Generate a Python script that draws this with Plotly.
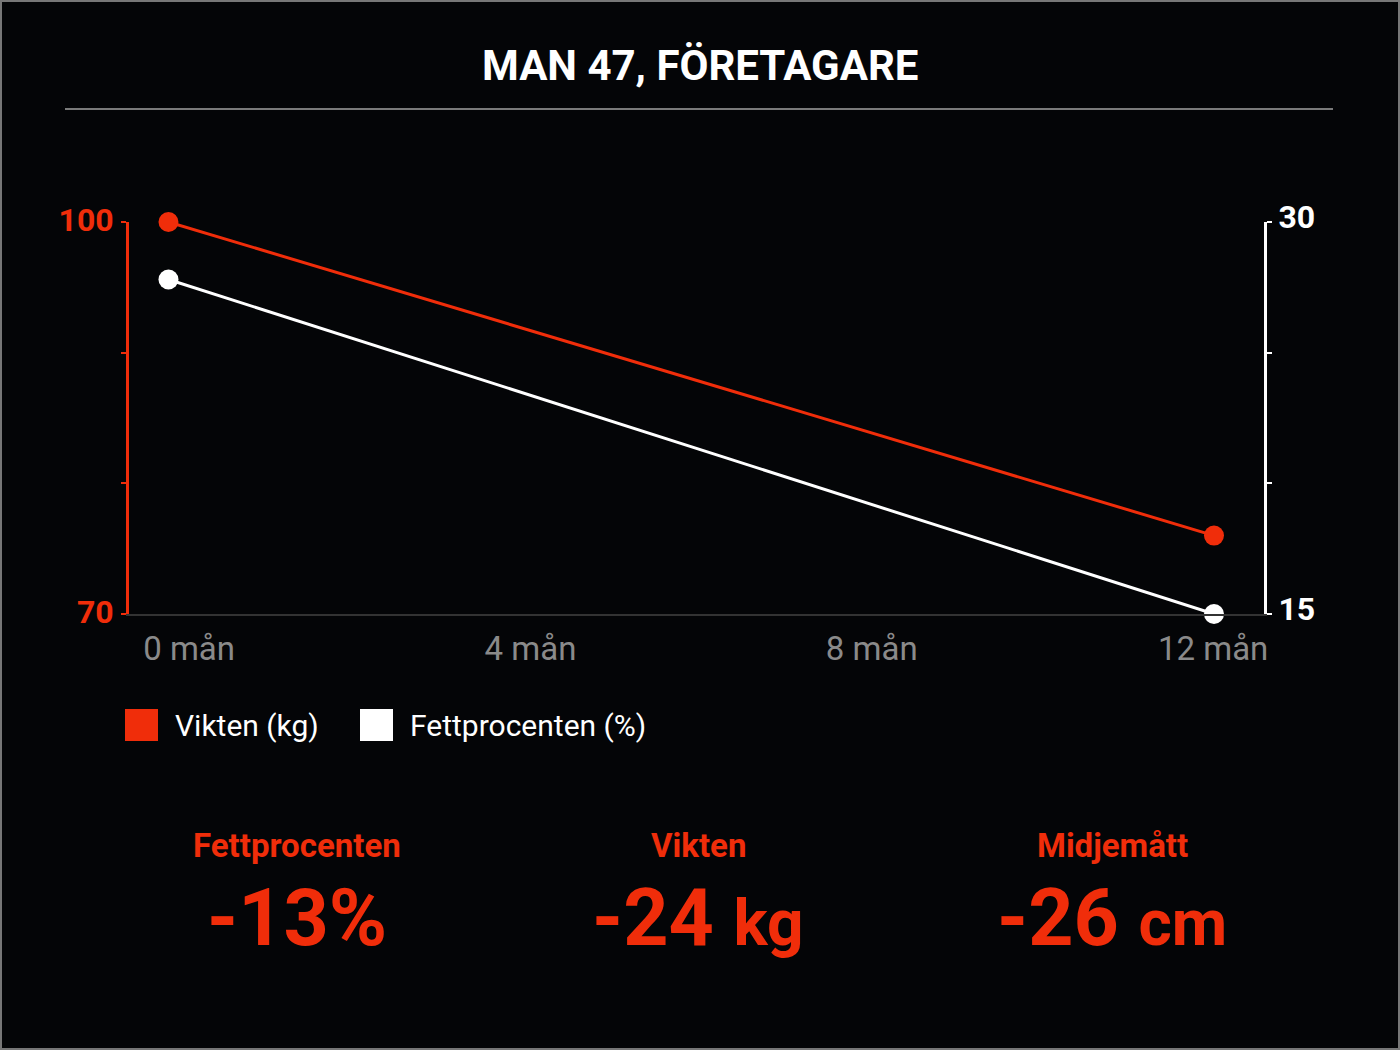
import plotly.graph_objects as go

# canvas and plot-area margins (pixels)
W, H = 1400, 1050
ML, MR, MT, MB = 129, 136, 222, 436

RED = "#F02D0A"
BG = "#040507"
GREY = "#8a8a8a"

# data
title_text = "MAN 47, FÖRETAGARE"
months = [0, 12]
weight_kg = [100, 76]
fat_pct = [27.8, 15]

month_ticks = [0, 4, 8, 12]
month_labels = ["0 mån", "4 mån", "8 mån", "12 mån"]
weight_ticks = [70, 80, 90, 100]
weight_tick_labels = ["70", "", "", "100"]
fat_ticks = [15, 20, 25, 30]
fat_tick_labels = ["15", "", "", "30"]

legend_labels = ["Vikten (kg)", "Fettprocenten (%)"]
legend_colors = [RED, "#ffffff"]

stat_titles = ["Fettprocenten", "Vikten", "Midjemått"]
stat_values = ["-13", "-24", "-26"]
stat_units = ["%", "kg", "cm"]


def px(x):
    # pixel x -> paper x
    return (x - ML) / (W - ML - MR)


def py(y):
    # pixel y -> paper y
    return (H - MB - y) / (H - MT - MB)


fig = go.Figure()

fig.add_trace(go.Scatter(
    x=months, y=weight_kg, name=legend_labels[0],
    mode="lines+markers", cliponaxis=False,
    line=dict(color=RED, width=3),
    marker=dict(size=20, color=RED),
    xaxis="x", yaxis="y",
))
fig.add_trace(go.Scatter(
    x=months, y=fat_pct, name=legend_labels[1],
    mode="lines+markers", cliponaxis=False,
    line=dict(color="#ffffff", width=3),
    marker=dict(size=20, color="#ffffff"),
    xaxis="x", yaxis="y2",
))
# empty trace so the month label axis gets drawn
fig.add_trace(go.Scatter(
    x=month_ticks, y=[None] * len(month_ticks), mode="markers",
    hoverinfo="skip", xaxis="x2", yaxis="y",
))

shapes = [
    # outer frame
    dict(type="rect", xref="paper", yref="paper",
         x0=px(1), x1=px(1399), y0=py(1049), y1=py(1),
         line=dict(color="#777777", width=2), fillcolor="rgba(0,0,0,0)"),
    # rule under the title
    dict(type="line", xref="paper", yref="paper",
         x0=px(65), x1=px(1333), y0=py(109), y1=py(109),
         line=dict(color="#7a7a7a", width=2)),
]

annotations = [
    dict(text=title_text, xref="paper", yref="paper", x=px(700), y=py(65),
         showarrow=False, xanchor="center", yanchor="middle",
         font=dict(family="Roboto", size=42, color="#ffffff", weight=700)),
]

# custom legend
legend_x = [125, 360]
for lab, col, lx in zip(legend_labels, legend_colors, legend_x):
    shapes.append(dict(type="rect", xref="paper", yref="paper",
                       x0=px(lx), x1=px(lx + 33), y0=py(741), y1=py(709),
                       fillcolor=col, line=dict(width=0)))
    annotations.append(dict(text=lab, xref="paper", yref="paper",
                            x=px(lx + 48), y=py(725), showarrow=False,
                            xanchor="left", yanchor="middle",
                            font=dict(family="Roboto", size=30, color="#ffffff")))

# summary figures under the chart
stat_x = [297, 698, 1112]
for t, v, u, sx in zip(stat_titles, stat_values, stat_units, stat_x):
    annotations.append(dict(text=t, xref="paper", yref="paper",
                            x=px(sx), y=py(845), showarrow=False,
                            xanchor="center", yanchor="middle",
                            font=dict(family="Roboto", size=33, color=RED, weight=700)))
    if u == "%":
        txt = v + u
    else:
        txt = v + " <span style='font-size:64px'>" + u + "</span>"
    annotations.append(dict(text=txt, xref="paper", yref="paper",
                            x=px(sx), y=py(918), showarrow=False,
                            xanchor="center", yanchor="middle",
                            font=dict(family="Roboto", size=79, color=RED, weight=700)))

fig.update_layout(
    width=W, height=H,
    margin=dict(l=ML, r=MR, t=MT, b=MB, pad=0),
    paper_bgcolor=BG, plot_bgcolor=BG,
    showlegend=False,
    xaxis=dict(
        range=[-0.453, 12.574], showgrid=False, zeroline=False,
        showticklabels=False, ticks="",
        showline=True, linecolor="#333333", linewidth=2,
    ),
    xaxis2=dict(
        range=[-0.704, 12.596], overlaying="x", anchor="y", side="bottom",
        showgrid=False, zeroline=False, showline=False, ticks="",
        tickvals=month_ticks, ticktext=month_labels,
        tickfont=dict(family="Roboto", size=33, color=GREY),
        ticklabelstandoff=12,
    ),
    yaxis=dict(
        range=[70, 100], showgrid=False, zeroline=False,
        tickvals=weight_ticks, ticktext=weight_tick_labels,
        ticks="outside", ticklen=5, tickwidth=2, tickcolor=RED,
        showline=True, linecolor=RED, linewidth=3,
        tickfont=dict(family="Roboto", size=32, color=RED, weight=700),
        ticklabelstandoff=1, ticklabelshift=-2,
    ),
    yaxis2=dict(
        range=[15, 30], overlaying="y", side="right", anchor="x",
        showgrid=False, zeroline=False,
        tickvals=fat_ticks, ticktext=fat_tick_labels,
        ticks="outside", ticklen=5, tickwidth=2, tickcolor="#ffffff",
        showline=True, linecolor="#ffffff", linewidth=3,
        tickfont=dict(family="Roboto", size=32, color="#ffffff", weight=700),
        ticklabelstandoff=0, ticklabelshift=-5,
    ),
    shapes=shapes,
    annotations=annotations,
)

fig.write_html("out.html", config={"displayModeBar": False},
               post_script="document.body.style.margin='0';")
